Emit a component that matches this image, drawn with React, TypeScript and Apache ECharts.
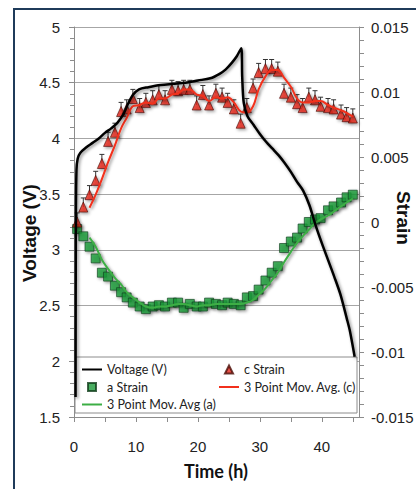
import React, { useEffect, useRef } from "react";
import * as echarts from "echarts";

// ---- data ----
const strainTime = [0.5, 1.5, 2.5, 3.5, 4.5, 5.5, 6.6, 7.6, 8.5, 9.5, 10.6, 11.6, 12.7, 13.7, 14.7, 15.8, 16.8, 17.7, 18.7, 19.8, 20.8, 21.8, 22.9, 23.9, 24.8, 25.8, 26.9, 27.9, 28.9, 29.8, 30.9, 31.9, 32.9, 33.9, 35.0, 36.0, 36.9, 37.9, 38.9, 39.8, 41.0, 41.9, 43.1, 44.0, 45.0];

const cStrain = [0.0000, 0.00115, 0.0021, 0.0032, 0.0045, 0.0062, 0.0069, 0.0085, 0.0087, 0.0095, 0.0088, 0.0092, 0.0094, 0.0098, 0.0094, 0.0102, 0.0101, 0.0102, 0.0102, 0.0090, 0.0098, 0.0090, 0.0099, 0.0096, 0.0092, 0.0087, 0.0076, 0.0088, 0.0103, 0.0115, 0.0118, 0.0118, 0.0116, 0.0099, 0.0096, 0.0091, 0.0088, 0.0096, 0.0094, 0.0089, 0.0088, 0.0087, 0.0083, 0.0081, 0.0080];

const aStrain = [-0.00054, -0.0011, -0.0019, -0.0028, -0.0039, -0.0042, -0.0049, -0.0054, -0.0058, -0.0062, -0.0065, -0.0067, -0.0065, -0.0064, -0.0065, -0.0062, -0.0062, -0.0066, -0.0063, -0.0065, -0.0065, -0.0062, -0.0063, -0.0064, -0.0062, -0.0063, -0.0064, -0.0058, -0.0057, -0.0052, -0.0045, -0.0039, -0.0034, -0.0020, -0.0015, -0.0012, -0.0005, 0.0000, 0.0002, 0.0003, 0.0009, 0.0012, 0.0015, 0.0019, 0.0021];

// moving-average trend lines, starting at the third strain point (t = 2.5 h)
const maTime = [2.5, 3.5, 4.5, 5.5, 6.6, 7.6, 8.5, 9.5, 10.6, 11.6, 12.7, 13.7, 14.7, 15.8, 16.8, 17.7, 18.7, 19.8, 20.8, 21.8, 22.9, 23.9, 24.8, 25.8, 26.9, 27.9, 28.9, 29.8, 30.9, 31.9, 32.9, 33.9, 35.0, 36.0, 36.9, 37.9, 38.9, 39.8, 41.0, 41.9, 43.1, 44.0, 45.0];

const maC = [0.0011, 0.0021, 0.0033, 0.0046, 0.0059, 0.0072, 0.0080, 0.0089, 0.0090, 0.0092, 0.0091, 0.0095, 0.0095, 0.0098, 0.0099, 0.0102, 0.0102, 0.0098, 0.0097, 0.0093, 0.0096, 0.0095, 0.0096, 0.0092, 0.0085, 0.0084, 0.0089, 0.0102, 0.0112, 0.0117, 0.0117, 0.0111, 0.0104, 0.0095, 0.0092, 0.0092, 0.0093, 0.0093, 0.0090, 0.0088, 0.0086, 0.0084, 0.0081];

const maA = [-0.0012, -0.0019, -0.0029, -0.0036, -0.0043, -0.0048, -0.0054, -0.0058, -0.0062, -0.0065, -0.0066, -0.0065, -0.0065, -0.0064, -0.0063, -0.0063, -0.0064, -0.0065, -0.0064, -0.0064, -0.0063, -0.0063, -0.0063, -0.0063, -0.0063, -0.0062, -0.0060, -0.0056, -0.0051, -0.0045, -0.0039, -0.0031, -0.0023, -0.0016, -0.0011, -0.0006, -0.0001, 0.0002, 0.0005, 0.0008, 0.0012, 0.0015, 0.0018];

const voltageTime = [0.25, 0.3, 0.4, 0.6, 1, 2, 3, 4, 5, 6, 7, 8, 8.8, 9.5, 10.5, 12, 14, 16, 18, 20, 22, 23.5, 24.5, 25.5, 26.3, 27.0, 27.15, 27.4, 28, 29, 30, 31, 32, 33, 34, 35, 36, 37, 38, 39, 40, 41, 42, 43, 44, 44.5, 45.3];
const voltageValue = [1.68, 3.2, 3.72, 3.82, 3.87, 3.92, 3.96, 4.0, 4.05, 4.09, 4.14, 4.22, 4.32, 4.39, 4.44, 4.46, 4.48, 4.49, 4.5, 4.52, 4.54, 4.58, 4.62, 4.68, 4.74, 4.81, 4.55, 4.32, 4.2, 4.12, 4.04, 3.97, 3.91, 3.85, 3.78, 3.70, 3.61, 3.53, 3.40, 3.22, 3.06, 2.91, 2.76, 2.60, 2.39, 2.28, 2.04];

const cStrainError = 0.0007;

const xTicks = [0, 10, 20, 30, 40];

const HFONT = "Lato, 'Liberation Sans', Arial, sans-serif";
const REG = "'Liberation Sans', Arial, sans-serif";

const LINE_ICON = "path://M0,0 L20,0 L20,2 L0,2 Z";
const TRI_ICON = "path://M5,0 L10,10 L0,10 Z";
const SQ_ICON = "path://M0,0 L10,0 L10,10 L0,10 Z";

const zip = (xs: number[], ys: number[]) => xs.map((x, i) => [x, ys[i]]);

export default function App() {
  const ref = useRef<HTMLDivElement>(null);
  useEffect(() => {
    if (!ref.current) return;
    const chart = echarts.init(ref.current, undefined, { renderer: "svg" });
    const shadow = {
      shadowBlur: 3,
      shadowColor: "rgba(0,0,0,0.45)",
      shadowOffsetX: 1.5,
      shadowOffsetY: 1.5,
    };
    const axisGray = "#8c8c8c";
    const legendText = { fontSize: 12.5, color: "#222", fontFamily: HFONT };
    chart.setOption({
      animation: false,
      backgroundColor: "#fff",
      grid: { left: 74, right: 57, top: 27, bottom: 72, containLabel: false, outerBoundsMode: "none" },
      xAxis: {
        type: "value",
        min: 0,
        max: 46,
        interval: 5,
        axisLine: { show: true, onZero: false, lineStyle: { color: axisGray } },
        axisTick: { show: true, length: 5, lineStyle: { color: axisGray } },
        axisLabel: {
          margin: 22,
          fontSize: 15,
          color: "#222",
          fontFamily: REG,
          showMaxLabel: false,
          formatter: (v: number) => (xTicks.includes(Math.round(v)) ? String(Math.round(v)) : ""),
        },
        splitLine: { show: false },
      },
      yAxis: [
        {
          type: "value",
          position: "left",
          min: 1.5,
          max: 5,
          interval: 0.5,
          axisLine: { show: true, lineStyle: { color: axisGray } },
          axisTick: { show: true, length: 5, lineStyle: { color: axisGray } },
          minorTick: { show: true, splitNumber: 5, length: 4, lineStyle: { color: axisGray } },
          axisLabel: { margin: 14, fontSize: 15, color: "#222", fontFamily: REG },
          splitLine: { show: true, lineStyle: { color: "#a6a6a6", width: 1 } },
        },
        {
          type: "value",
          position: "right",
          min: -0.015,
          max: 0.015,
          interval: 0.005,
          axisLine: { show: true, lineStyle: { color: axisGray } },
          axisTick: { show: true, length: 5, lineStyle: { color: axisGray } },
          minorTick: { show: true, splitNumber: 5, length: 5, lineStyle: { color: axisGray } },
          axisLabel: { margin: 12, fontSize: 15, color: "#222", fontFamily: REG },
          splitLine: { show: false },
        },
      ],
      legend: [
        {
          data: [
            { name: "Voltage (V)", icon: LINE_ICON },
            { name: "a Strain", icon: SQ_ICON },
            { name: "3 Point Mov. Avg (a)", icon: LINE_ICON },
          ],
          orient: "vertical",
          left: 77,
          top: 358,
          itemGap: 4.5,
          itemWidth: 20,
          itemHeight: 8,
          textStyle: legendText,
          z: 5,
        },
        {
          data: [
            { name: "c Strain", icon: TRI_ICON },
            { name: "3 Point Mov. Avg. (c)", icon: LINE_ICON },
          ],
          orient: "vertical",
          left: 214,
          top: 358,
          itemGap: 4.5,
          itemWidth: 20,
          itemHeight: 8,
          textStyle: legendText,
          z: 5,
        },
      ],
      graphic: [
        {
          type: "rect",
          z: 4,
          shape: { x: 75, y: 357, width: 282, height: 56 },
          style: { fill: "#fff", stroke: "#8c8c8c", lineWidth: 1 },
        },
        {
          type: "rect",
          z: 10,
          shape: { x: 14, y: 9, width: 420, height: 500 },
          style: { fill: "none", stroke: "#1f3b5a", lineWidth: 2 },
        },
        {
          type: "text",
          x: 29,
          y: 233,
          rotation: Math.PI / 2,
          style: {
            text: "Voltage (V)",
            fontSize: 19,
            fontWeight: "bold",
            fontFamily: REG,
            fill: "#111",
            align: "center",
            verticalAlign: "middle",
            textAlign: "center",
            textVerticalAlign: "middle",
          },
        },
        {
          type: "text",
          x: 403,
          y: 218,
          rotation: -Math.PI / 2,
          style: {
            text: "Strain",
            fontSize: 19,
            fontWeight: "bold",
            fontFamily: REG,
            fill: "#111",
            align: "center",
            verticalAlign: "middle",
            textAlign: "center",
            textVerticalAlign: "middle",
          },
        },
        {
          type: "text",
          x: 216,
          y: 471,
          style: {
            text: "Time (h)",
            fontSize: 18,
            fontWeight: "bold",
            fontFamily: HFONT,
            fill: "#111",
            align: "center",
            verticalAlign: "middle",
            textAlign: "center",
            textVerticalAlign: "middle",
          },
        },
      ],
      series: [
        {
          name: "a Strain",
          type: "scatter",
          yAxisIndex: 1,
          data: zip(strainTime, aStrain),
          symbol: "rect",
          symbolSize: [9, 9],
          itemStyle: { color: "#1c9a3a", borderColor: "#123d1c", borderWidth: 0.8, ...shadow },
          z: 2,
        },
        {
          name: "cErr",
          type: "custom",
          yAxisIndex: 1,
          data: zip(strainTime, cStrain),
          z: 2,
          renderItem: (params: any, api: any) => {
            const x = api.value(0);
            const y = api.value(1);
            const p = api.coord([x, y]);
            const t = api.coord([x, y + cStrainError]);
            const st = { stroke: "#333", lineWidth: 1 };
            return {
              type: "group",
              children: [
                { type: "line", shape: { x1: p[0], y1: p[1], x2: t[0], y2: t[1] }, style: st },
                { type: "line", shape: { x1: t[0] - 2.5, y1: t[1], x2: t[0] + 2.5, y2: t[1] }, style: st },
              ],
            };
          },
        },
        {
          name: "c Strain",
          type: "scatter",
          yAxisIndex: 1,
          data: zip(strainTime, cStrain),
          symbol: "triangle",
          symbolSize: [9, 10],
          itemStyle: { color: "#e2261a", borderColor: "#4a0c06", borderWidth: 0.8, ...shadow },
          z: 3,
        },
        {
          name: "3 Point Mov. Avg (a)",
          type: "line",
          yAxisIndex: 1,
          data: zip(maTime, maA),
          smooth: 0.4,
          symbol: "none",
          showSymbol: false,
          lineStyle: { color: "#3cae45", width: 2, ...shadow },
          itemStyle: { color: "#3cae45" },
          z: 4,
        },
        {
          name: "3 Point Mov. Avg. (c)",
          type: "line",
          yAxisIndex: 1,
          data: zip(maTime, maC),
          smooth: 0.4,
          symbol: "none",
          showSymbol: false,
          lineStyle: { color: "#f2301c", width: 2, ...shadow },
          itemStyle: { color: "#f2301c" },
          z: 4,
        },
        {
          name: "Voltage (V)",
          type: "line",
          yAxisIndex: 0,
          data: zip(voltageTime, voltageValue),
          smooth: 0.3,
          symbol: "none",
          showSymbol: false,
          lineStyle: { color: "#000", width: 2.5, ...shadow },
          itemStyle: { color: "#000" },
          z: 4,
        },
      ],
    });
    return () => chart.dispose();
  }, []);
  return (
    <div
      ref={ref}
      style={{ position: "fixed", left: 0, top: 0, width: 416, height: 489 }}
    />
  );
}
